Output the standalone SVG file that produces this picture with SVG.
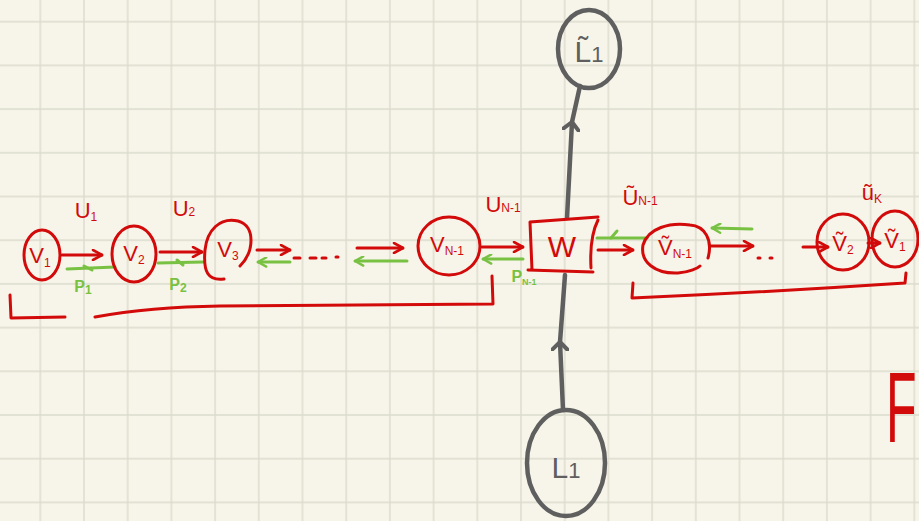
<svg xmlns="http://www.w3.org/2000/svg" width="919" height="521" viewBox="0 0 919 521">
  <defs>
    <pattern id="grid" x="18.45" y="-0.15" width="43.7" height="43.7" patternUnits="userSpaceOnUse">
      <path d="M21.85,0 V43.7 M0,21.85 H43.7" stroke="#dcdbcd" stroke-width="1.4" fill="none"/>
    </pattern>
    <marker id="headRed" viewBox="0 0 12 12" refX="11" refY="6" markerWidth="12" markerHeight="12" markerUnits="userSpaceOnUse" orient="auto">
      <path d="M2,1 L11,6 L2,11" fill="none" stroke="#d20a0a" stroke-width="2.6" stroke-linecap="round" stroke-linejoin="round"/>
    </marker>
    <marker id="headGreen" viewBox="0 0 12 12" refX="11" refY="6" markerWidth="11" markerHeight="11" markerUnits="userSpaceOnUse" orient="auto">
      <path d="M2,1 L11,6 L2,11" fill="none" stroke="#78c142" stroke-width="2.6" stroke-linecap="round" stroke-linejoin="round"/>
    </marker>
    <marker id="headGray" viewBox="0 0 16 16" refX="8" refY="8" markerWidth="18" markerHeight="18" markerUnits="userSpaceOnUse" orient="auto">
      <path d="M1,1 L8,8 L1,15" fill="none" stroke="#5f5f5f" stroke-width="3.6" stroke-linecap="round" stroke-linejoin="round"/>
    </marker>
  </defs>
  <style>
    .red { fill: none; stroke: #d20a0a; stroke-width: 3; stroke-linecap: round; stroke-linejoin: round; }
    .green { fill: none; stroke: #78c142; stroke-width: 3; stroke-linecap: round; }
    .gray { fill: none; stroke: #5f5f5f; stroke-width: 4.5; stroke-linecap: round; stroke-linejoin: round; }
    .ar { marker-end: url(#headRed); }
    .ag { marker-end: url(#headGreen); }
    .mg { marker-mid: url(#headGray); }
    text { font-family: "Liberation Sans", Arial, sans-serif; text-anchor: middle; }
    .tr { fill: #d20a0a; font-size: 22px; }
    .tg { fill: #78c142; font-size: 16px; font-weight: bold; }
    .tk { fill: #5f5f5f; font-size: 30px; }
    .sub { font-size: 12px; }
  </style>

  <!-- paper -->
  <rect width="919" height="521" fill="#f7f5e9"/>
  <rect width="919" height="521" fill="url(#grid)"/>

  <!-- connectors -->
  <g id="connectors">
    <!-- forward chain -->
    <line class="red ar" x1="62" y1="255" x2="102" y2="255"/>
    <line class="red ar" x1="160" y1="252" x2="202" y2="252"/>
    <line class="red ar" x1="257" y1="250" x2="290" y2="250"/>
    <path class="red" d="M294,258 h6 M310,258 h6 M322,258 h4 M336,257 h2" />
    <line class="red ar" x1="357" y1="248" x2="403" y2="248"/>
    <line class="red ar" x1="482" y1="247" x2="523" y2="247"/>
    <line class="red ar" x1="598" y1="250" x2="633" y2="250"/>
    <line class="red ar" x1="710" y1="246" x2="753" y2="246"/>
    <path class="red" d="M758,258 h2 M770,258 h2"/>
    <line class="red ar" x1="803" y1="247" x2="828" y2="247"/>
    <line class="red ar" x1="868" y1="243" x2="880" y2="243"/>

    <!-- backward chain -->
    <line class="green" x1="67" y1="269" x2="115" y2="267"/>
    <path class="green" d="M84,266 L92,270"/>
    <line class="green" x1="158" y1="263" x2="203" y2="262"/>
    <path class="green" d="M177,260 L183,265"/>
    <line class="green ag" x1="290" y1="262" x2="258" y2="262"/>
    <line class="green ag" x1="407" y1="261" x2="355" y2="261"/>
    <line class="green ag" x1="523" y1="259" x2="483" y2="259"/>
    <line class="green" x1="647" y1="238" x2="597" y2="238"/>
    <path class="green" d="M617,231 L611,238"/>
    <line class="green ag" x1="752" y1="229" x2="712" y2="228"/>

    <!-- groupings -->
    <path class="red" d="M10,295 L11,318 L65,317"/>
    <path class="red" d="M95,317 Q150,307 220,306 L493,304 L492,276"/>
    <path class="red" d="M633,283 L632,298 Q770,292 905,283 L906,273"/>

    <!-- vertical path through W -->
    <polyline class="gray mg" points="567,218 572,122 580,86"/>
    <polyline class="gray mg" points="563,410 560,342 565,275"/>
  </g>

  <!-- nodes -->
  <g id="V1">
    <ellipse class="red" cx="42" cy="255" rx="18" ry="25"/>
    <text class="tr" x="40" y="263">V<tspan class="sub" dy="4">1</tspan></text>
  </g>
  <g id="V2">
    <ellipse class="red" cx="134" cy="254" rx="22" ry="28"/>
    <text class="tr" x="134" y="261">V<tspan class="sub" dy="3">2</tspan></text>
  </g>
  <g id="V3">
    <path class="red" d="M240,266 C254,252 256,226 238,221 C220,217 207,230 205,250 C203,272 208,281 224,279"/>
    <text class="tr" x="228" y="257">V<tspan class="sub" dy="3">3</tspan></text>
  </g>
  <g id="VN1">
    <ellipse class="red" cx="449" cy="246" rx="31" ry="29"/>
    <text class="tr" x="447" y="252">V<tspan class="sub" dy="3">N-1</tspan></text>
  </g>
  <g id="W">
    <path class="red" d="M530,222 L598,217 M530,222 L532,270 M528,270 L593,272 M598,220 C592,232 590,250 591,268"/>
    <text class="tr" x="562" y="257" style="font-size:30px">W</text>
  </g>
  <g id="VtN1">
    <path class="red" d="M708,258 C713,240 705,226 690,225 C670,222 648,228 643,245 C640,262 655,274 678,273 C690,272 698,268 700,266"/>
    <text class="tr" x="675" y="255">Ṽ<tspan class="sub" dy="3">N-1</tspan></text>
  </g>
  <g id="Vt2">
    <ellipse class="red" cx="843" cy="242" rx="26" ry="28"/>
    <text class="tr" x="843" y="251">Ṽ<tspan class="sub" dy="3">2</tspan></text>
  </g>
  <g id="Vt1">
    <ellipse class="red" cx="895" cy="239" rx="23" ry="28"/>
    <text class="tr" x="895" y="248">Ṽ<tspan class="sub" dy="3">1</tspan></text>
  </g>
  <g id="Lt1">
    <ellipse class="gray" cx="589" cy="49" rx="31" ry="39"/>
    <text class="tk" x="589" y="62">L̃<tspan style="font-size:22px">1</tspan></text>
  </g>
  <g id="L1">
    <ellipse class="gray" cx="566" cy="463" rx="39" ry="53"/>
    <text class="tk" x="566" y="478">L<tspan style="font-size:22px">1</tspan></text>
  </g>

  <!-- edge labels -->
  <g id="labels">
    <text class="tr" x="86" y="218">U<tspan class="sub" dy="3">1</tspan></text>
    <text class="tr" x="184" y="216">U<tspan class="sub" dy="0">2</tspan></text>
    <text class="tr" x="503" y="212">U<tspan class="sub" dy="0">N-1</tspan></text>
    <text class="tr" x="640" y="205">Ũ<tspan class="sub" dy="0">N-1</tspan></text>
    <text class="tr" x="872" y="200">ũ<tspan class="sub" dy="3">K</tspan></text>
    <text class="tg" x="83" y="292">P<tspan class="sub" dy="2">1</tspan></text>
    <text class="tg" x="178" y="290">P<tspan class="sub" dy="2">2</tspan></text>
    <text class="tg" x="524" y="282">P<tspan class="sub" dy="3" style="font-size:9px">N-1</tspan></text>
  </g>

  <!-- margin letter -->
  <text class="tr" transform="translate(886,442) scale(0.5,1)" x="0" y="0" style="font-size:100px;text-anchor:start">F</text>
</svg>
